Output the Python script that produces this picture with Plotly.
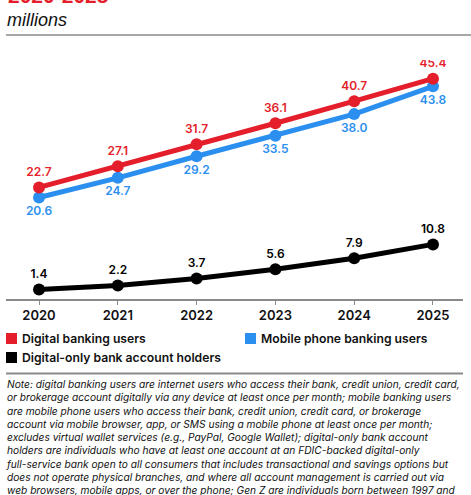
import plotly.graph_objects as go

W, H = 471, 495

years = [2020, 2021, 2022, 2023, 2024, 2025]
digital_banking = [22.7, 27.1, 31.7, 36.1, 40.7, 45.4]
mobile_banking = [20.6, 24.7, 29.2, 33.5, 38.0, 43.8]
digital_only = [1.4, 2.2, 3.7, 5.6, 7.9, 10.8]

series_names = ["Digital banking users", "Mobile phone banking users",
                "Digital-only bank account holders"]
RED, BLUE, BLACK = "#e41e2b", "#2b8ff0", "#000000"

note_lines = [
    "Note: digital banking users are internet users who access their bank, credit union, credit card,",
    "or brokerage account digitally via any device at least once per month; mobile banking users",
    "are mobile phone users who access their bank, credit union, credit card, or brokerage",
    "account via mobile browser, app, or SMS using a mobile phone at least once per month;",
    "excludes virtual wallet services (e.g., PayPal, Google Wallet); digital-only bank account",
    "holders are individuals who have at least one account at an FDIC-backed digital-only",
    "full-service bank open to all consumers that includes transactional and savings options but",
    "does not operate physical branches, and where all account management is carried out via",
    "web browsers, mobile apps, or over the phone; Gen Z are individuals born between 1997 and",
]


def px(x):
    return x / W


def py(y):
    return 1 - y / H


FONT = "Inter"

fig = go.Figure()
# blue first so the red line sits on top of it
for vals, col, pos in [(mobile_banking, BLUE, "bottom center"),
                       (digital_banking, RED, "top center"),
                       (digital_only, BLACK, "top center")]:
    fig.add_trace(go.Scatter(
        x=years, y=vals, mode="lines+markers+text",
        line=dict(color=col, width=5),
        marker=dict(color=col, size=12),
        text=[f"{v:.1f}" for v in vals], textposition=pos,
        textfont=dict(family=FONT, size=12, color=col, weight=600),
        showlegend=False, hoverinfo="skip",
    ))

shapes = [
    dict(type="line", xref="paper", yref="paper", x0=px(6), x1=px(471), y0=py(35), y1=py(35),
         line=dict(color="#8a8a8a", width=1.5)),
    dict(type="line", xref="paper", yref="paper", x0=px(6), x1=px(463), y0=py(373.5), y1=py(373.5),
         line=dict(color="#8a8a8a", width=2)),
]
annotations = [
    dict(text="<b>2020-2025</b>", x=px(6), y=py(-4), xref="paper", yref="paper",
         xanchor="left", yanchor="middle", showarrow=False,
         font=dict(family="Liberation Sans", size=21, color=RED)),
    dict(text="<i>millions</i>", x=px(5), y=py(20), xref="paper", yref="paper",
         xanchor="left", yanchor="middle", showarrow=False,
         font=dict(family="Liberation Sans", size=18, color="#111")),
]

# legend drawn by hand: square swatch + label
legend_pos = [(6, 338.5, RED), (245, 338.5, BLUE), (6, 357.5, BLACK)]
for name, (lx, ly, col) in zip(series_names, legend_pos):
    shapes.append(dict(type="rect", xref="paper", yref="paper",
                       x0=px(lx), x1=px(lx + 11), y0=py(ly - 5.5), y1=py(ly + 5.5),
                       fillcolor=col, line=dict(width=0)))
    annotations.append(dict(text=name, x=px(lx + 14), y=py(ly), xref="paper", yref="paper",
                            xanchor="left", yanchor="middle", showarrow=False,
                            font=dict(family=FONT, size=12.2, color="#111", weight=600)))

annotations.append(dict(
    text="<i>" + "<br>".join(note_lines) + "</i>", x=px(4), y=py(375.5), xref="paper", yref="paper",
    xanchor="left", yanchor="top", align="left", showarrow=False,
    font=dict(family=FONT, size=10.2, color="#111"),
))

fig.update_layout(
    width=W, height=H,
    margin=dict(l=0, r=0, t=0, b=0),
    paper_bgcolor="white", plot_bgcolor="white",
    shapes=shapes, annotations=annotations,
    xaxis=dict(domain=[px(6), px(463)], range=[2019.581, 2025.381],
               tickvals=years, ticktext=[str(y) for y in years],
               showgrid=False, zeroline=False,
               showline=True, linecolor="#8a8a8a", linewidth=1.5,
               ticks="outside", ticklen=4, tickcolor="#8a8a8a", tickwidth=1,
               tickfont=dict(family=FONT, size=13, color="#111", weight=600)),
    yaxis=dict(domain=[py(299), py(60)], range=[-0.6, 49.3],
               showgrid=False, zeroline=False, showticklabels=False, showline=False),
)

fig.write_html("out.html", config={"displayModeBar": False},
               post_script="document.body.style.margin='0';")
